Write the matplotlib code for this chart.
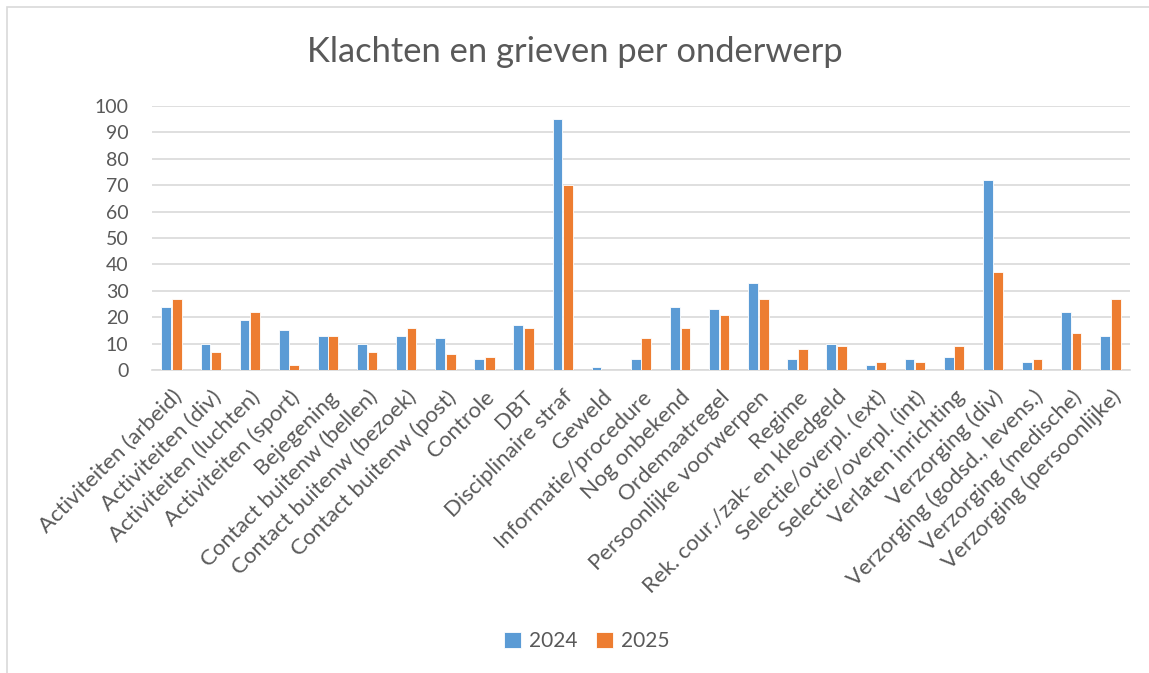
import matplotlib
matplotlib.use("Agg")
import matplotlib.pyplot as plt
import numpy as np
from matplotlib.patches import Rectangle

plt.rcParams['font.family'] = ['Lato', 'DejaVu Sans']

categories = [
    "Activiteiten (arbeid)", "Activiteiten (div)", "Activiteiten (luchten)",
    "Activiteiten (sport)", "Bejegening", "Contact buitenw (bellen)",
    "Contact buitenw (bezoek)", "Contact buitenw (post)", "Controle", "DBT",
    "Disciplinaire straf", "Geweld", "Informatie/procedure", "Nog onbekend",
    "Ordemaatregel", "Persoonlijke voorwerpen", "Regime",
    "Rek. cour./zak- en kleedgeld", "Selectie/overpl. (ext)",
    "Selectie/overpl. (int)", "Verlaten inrichting", "Verzorging (div)",
    "Verzorging (godsd., levens.)", "Verzorging (medische)",
    "Verzorging (persoonlijke)",
]
values_2024 = [24, 10, 19, 15, 13, 10, 13, 12, 4, 17, 95, 1, 4, 24, 23, 33, 4, 10, 2, 4, 5, 72, 3, 22, 13]
values_2025 = [27, 7, 22, 2, 13, 7, 16, 6, 5, 16, 70, 0, 12, 16, 21, 27, 8, 9, 3, 3, 9, 37, 4, 14, 27]
series_labels = ["2024", "2025"]
yticks = [0, 10, 20, 30, 40, 50, 60, 70, 80, 90, 100]

W, H = 1149, 673
fig = plt.figure(figsize=(W / 100, H / 100), dpi=100)
fig.patch.set_facecolor("white")

# chart border
fig.patches.append(Rectangle((7 / W, -0.1), 1.2, 1 - 7 / H + 0.1, transform=fig.transFigure,
                             fill=False, edgecolor="#D9D9D9", linewidth=1.2))

ax = fig.add_axes([152 / W, 1 - 370 / H, (1130 - 152) / W, (370 - 106) / H])
x = np.arange(len(categories))
bw = 0.25
ax.bar(x - bw / 2 - 0.01, values_2024, width=bw, color="#5B9BD5", edgecolor="white", linewidth=0.6,
       label=series_labels[0], zorder=3)
ax.bar(x + bw / 2 + 0.01, values_2025, width=bw, color="#ED7D31", edgecolor="white", linewidth=0.6,
       label=series_labels[1], zorder=3)

ax.set_xlim(-0.5, len(categories) - 0.5)
ax.set_ylim(0, 100)
ax.set_yticks(yticks)
ax.yaxis.grid(True, color="#D9D9D9", linewidth=1.2, zorder=0)
for s in ["top", "right", "left"]:
    ax.spines[s].set_visible(False)
ax.spines["bottom"].set_color("#D9D9D9")
ax.spines["bottom"].set_linewidth(1.2)
ax.tick_params(axis="both", length=0, colors="#595959")
ax.tick_params(axis="y", pad=17, labelsize=14)
ax.set_xticks(x)
ax.set_xticklabels(categories, rotation=45, ha="right", va="top", rotation_mode="anchor")
ax.tick_params(axis="x", pad=12, labelsize=16)

fig.text(0.5, 1 - 52 / H, "Klachten en grieven per onderwerp", ha="center", va="center",
         fontsize=24.8, color="#595959")

leg = fig.legend(loc="center", bbox_to_anchor=(587 / W, 1 - 641 / H), ncol=2, frameon=False,
                 fontsize=15, handlelength=0.8, handleheight=0.8, handletextpad=0.4,
                 columnspacing=0.9, labelcolor="#595959")

fig.savefig("out.png", dpi=100)
